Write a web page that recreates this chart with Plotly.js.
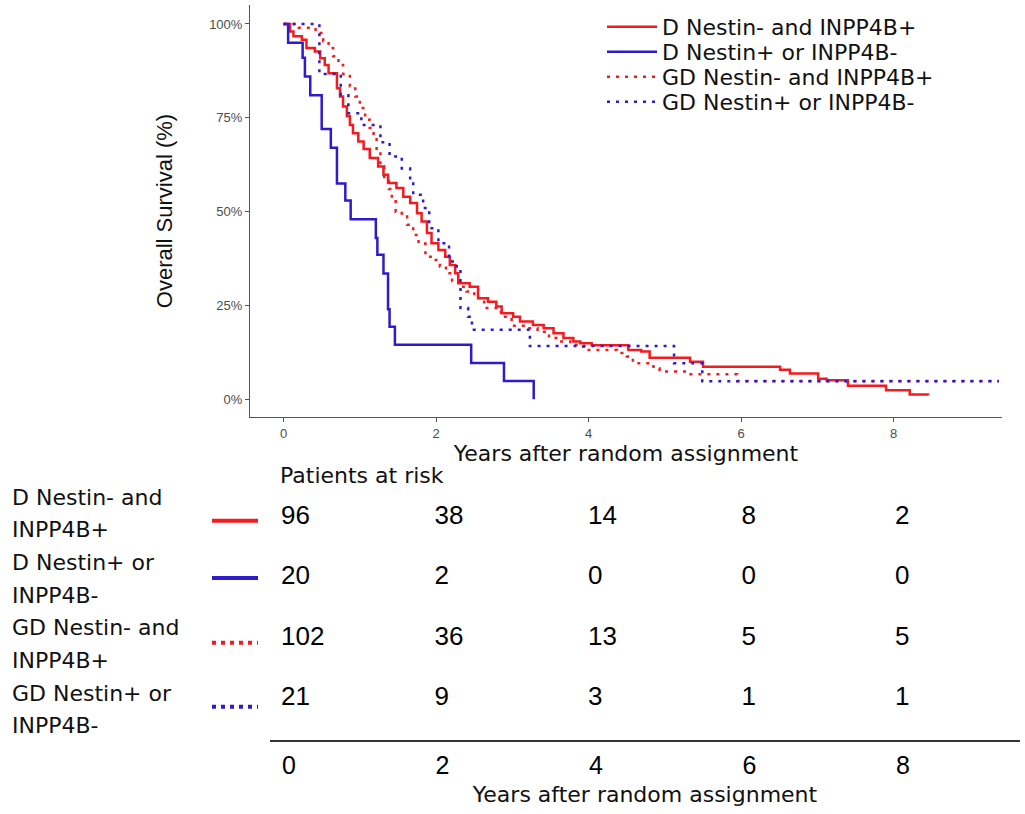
<!DOCTYPE html>
<html><head><meta charset="utf-8">
<script src="https://cdn.plot.ly/plotly-3.0.1.min.js"></script>
<style>html,body{margin:0;padding:0;background:#fff}</style>
</head><body><div id="chart" style="width:1025px;height:814px"></div>
<script>
// ---- data ----
const groupNames = ['D Nestin- and INPP4B+', 'D Nestin+ or INPP4B-', 'GD Nestin- and INPP4B+', 'GD Nestin+ or INPP4B-'];
const labelLines = [['D Nestin- and', 'INPP4B+'], ['D Nestin+ or', 'INPP4B-'], ['GD Nestin- and', 'INPP4B+'], ['GD Nestin+ or', 'INPP4B-']];

// D Nestin- and INPP4B+ (red solid)
const tD_neg = [0, 0.085, 0.13, 0.24, 0.30, 0.41, 0.48, 0.54, 0.59, 0.70, 0.74, 0.78, 0.83, 0.87, 0.91, 0.98, 1.05, 1.13, 1.24, 1.31, 1.37, 1.48, 1.57, 1.66, 1.75, 1.81, 1.88, 1.94, 2.03, 2.12, 2.18, 2.25, 2.29, 2.44, 2.55, 2.68, 2.79, 2.86, 3.01, 3.10, 3.27, 3.41, 3.54, 3.67, 3.80, 3.89, 4.04, 4.52, 4.69, 4.80, 5.33, 5.50, 6.51, 6.64, 7.01, 7.12, 7.40, 7.90, 8.21, 8.45];
const sD_neg = [100, 98, 96.7, 95.8, 93.6, 92.7, 90.9, 89.1, 86.9, 82.9, 80.7, 78, 75.4, 73.1, 70.9, 68.7, 66.7, 64.3, 62, 59.8, 57.6, 56.3, 54, 52.3, 49.6, 47.4, 44.3, 41.6, 39.8, 38, 35.8, 33.6, 30.9, 30, 26.9, 26, 24.7, 22.9, 22, 20.7, 19.8, 18.9, 17.6, 16.3, 15.4, 14.9, 14.4, 13.1, 12.7, 11.1, 10, 8.7, 7.9, 6.9, 5.5, 5.1, 3.6, 2.4, 1.3, 1.1];

// D Nestin+ or INPP4B- (blue solid)
const tD_pos = [0, 0.06, 0.25, 0.28, 0.35, 0.50, 0.62, 0.70, 0.81, 0.88, 1.21, 1.23, 1.31, 1.37, 1.39, 1.46, 2.46, 2.89, 3.28];
const sD_pos = [100, 95, 91, 86, 81, 72, 67, 57.5, 53, 48, 43, 38.5, 33.5, 24, 19.3, 14.5, 9.7, 4.9, 0];

// GD Nestin- and INPP4B+ (red dotted)
const tGD_neg = [0, 0.20, 0.42, 0.52, 0.59, 0.65, 0.72, 0.78, 0.87, 0.94, 1.00, 1.07, 1.13, 1.18, 1.22, 1.27, 1.32, 1.38, 1.42, 1.47, 1.55, 1.62, 1.70, 1.77, 1.86, 1.96, 2.05, 2.13, 2.21, 2.30, 2.40, 2.50, 2.63, 2.85, 2.99, 3.20, 3.33, 3.48, 3.60, 3.76, 3.87, 3.97, 4.37, 4.50, 4.58, 4.85, 4.93, 5.30, 5.95, 9.38];
const sGD_neg = [100, 99, 97.6, 95.4, 93.6, 91.4, 89.1, 86.7, 83.4, 80.7, 77.6, 74.5, 72.3, 70, 66, 62, 58.7, 56, 53.6, 50, 48.7, 46.5, 43.8, 41.5, 38, 37.1, 35.4, 33.6, 31.5, 30, 28.7, 27, 24.3, 22, 19.6, 18.9, 18, 16.3, 15.4, 14.5, 14, 13.1, 12.3, 11.4, 9.6, 8.3, 7.4, 6.7, 4.9, 4.9];

// GD Nestin+ or INPP4B- (blue dotted)
const tGD_pos = [0, 0.47, 0.75, 0.85, 1.02, 1.27, 1.39, 1.55, 1.66, 1.70, 1.83, 1.91, 2.03, 2.17, 2.27, 2.32, 2.42, 2.47, 3.23, 5.12, 5.49, 9.38];
const sGD_pos = [100, 86.7, 81, 76.2, 73.1, 68.5, 64.7, 61.5, 57.5, 54.5, 51, 45.6, 41.6, 36.7, 34.5, 24.3, 22, 18.5, 14.2, 9.6, 4.8, 4.8];

// patients at risk
const riskTimes = [0, 2, 4, 6, 8];
const riskD_neg = [96, 38, 14, 8, 2];
const riskD_pos = [20, 2, 0, 0, 0];
const riskGD_neg = [102, 36, 13, 5, 5];
const riskGD_pos = [21, 9, 3, 1, 1];

const xTicks = [0, 2, 4, 6, 8];
const yTicks = [0, 25, 50, 75, 100];
const yTickLabels = ['0%', '25%', '50%', '75%', '100%'];

// ---- styles ----
const RED = '#F41A1E';
const BLUE = '#2E1BCB';
const DOT = '3px,6px';
const W = 1025, H = 814;
const px = v => v / W;
const py = v => 1 - v / H;

const curveData = [
  [tD_neg, sD_neg, RED, 'solid'],
  [tD_pos, sD_pos, BLUE, 'solid'],
  [tGD_neg, sGD_neg, RED, DOT],
  [tGD_pos, sGD_pos, BLUE, DOT]
];
const legendIds = ['legend', 'legend2', 'legend3', 'legend4'];

const traces = curveData.map((c, i) => ({
  type: 'scatter', mode: 'lines', x: c[0], y: c[1], name: groupNames[i],
  line: {color: c[2], width: 2.5, dash: c[3], shape: 'hv'},
  xaxis: 'x', yaxis: 'y', legend: legendIds[i], hoverinfo: 'name'
}));

const riskRows = [riskD_neg, riskD_pos, riskGD_neg, riskGD_pos];
riskRows.forEach((row, i) => {
  traces.push({
    type: 'scatter', mode: 'text', x: riskTimes, y: riskTimes.map(() => groupNames[i]),
    text: row.map(String), textposition: 'middle right',
    textfont: {family: 'Liberation Sans, Arial, sans-serif', size: 26, color: '#000'},
    xaxis: 'x2', yaxis: 'y2', showlegend: false, hoverinfo: 'skip', cliponaxis: false
  });
});

const legendBase = {xanchor: 'left', yanchor: 'middle', bgcolor: 'rgba(0,0,0,0)', borderwidth: 0,
  itemwidth: 50, font: {family: 'DejaVu Sans', size: 22, color: '#111'}};
const legendRowsPx = [27, 52, 77, 102];

const annotations = [{
  text: 'Patients at risk', xref: 'paper', yref: 'paper', x: px(278), y: py(476),
  xanchor: 'left', yanchor: 'middle', showarrow: false,
  font: {family: 'DejaVu Sans', size: 22, color: '#111'}
}];
labelLines.flat().forEach((t, i) => {
  annotations.push({
    text: t, xref: 'paper', yref: 'paper', x: px(10), y: py(497 + i * 32.7),
    xanchor: 'left', yanchor: 'middle', showarrow: false,
    font: {family: 'DejaVu Sans', size: 22, color: '#111'}
  });
});

const sampleRowsPx = [520.7, 578, 642.7, 706.7];
const shapes = curveData.map((c, i) => ({
  type: 'line', xref: 'paper', yref: 'paper', x0: px(212), x1: px(258),
  y0: py(sampleRowsPx[i]), y1: py(sampleRowsPx[i]),
  line: {color: c[2], width: 4, dash: c[3] === 'solid' ? 'solid' : '4px,5px'}
}));

const layout = {
  width: W, height: H, margin: {l: 0, r: 0, t: 0, b: 0},
  paper_bgcolor: '#fff', plot_bgcolor: '#fff', showlegend: true,
  font: {family: 'DejaVu Sans', color: '#000'},
  xaxis: {
    domain: [px(250), px(1002)], range: [-0.44, 9.42], anchor: 'y',
    tickvals: xTicks, ticks: 'outside', ticklen: 4, tickcolor: '#555',
    showline: true, linecolor: '#555', linewidth: 1, zeroline: false, showgrid: false,
    tickfont: {family: 'Liberation Sans, Arial, sans-serif', size: 13, color: '#4D4D4D'},
    title: {text: 'Years after random assignment', font: {family: 'DejaVu Sans', size: 22, color: '#111'}, standoff: 6}
  },
  yaxis: {
    domain: [py(417), py(5)], range: [-4.72, 105.06], anchor: 'x',
    tickvals: yTicks, ticktext: yTickLabels, ticks: 'outside', ticklen: 4, tickcolor: '#555',
    showline: true, linecolor: '#555', linewidth: 1, zeroline: false, showgrid: false,
    tickfont: {family: 'Liberation Sans, Arial, sans-serif', size: 13, color: '#4D4D4D'},
    title: {text: 'Overall Survival (%)', font: {family: 'Liberation Sans, Arial, sans-serif', size: 22, color: '#111'}, standoff: 30}
  },
  xaxis2: {
    domain: [px(270), px(1020)], range: [-0.143, 9.629], anchor: 'y2',
    tickvals: riskTimes, ticks: '', showline: true, linecolor: '#333', linewidth: 1.5,
    zeroline: false, showgrid: false, ticklabelshift: 8, ticklabelstandoff: 2,
    tickfont: {family: 'Liberation Sans, Arial, sans-serif', size: 25, color: '#000'},
    title: {text: 'Years after random assignment', font: {family: 'DejaVu Sans', size: 22, color: '#111'}, standoff: 9}
  },
  yaxis2: {
    domain: [py(740), py(486)], type: 'category', categoryarray: groupNames,
    range: [3.676, -0.511], anchor: 'x2', visible: false
  },
  annotations: annotations,
  shapes: shapes
};
legendIds.forEach((id, i) => {
  layout[id] = Object.assign({}, legendBase, {x: px(602), y: py(legendRowsPx[i])});
});

Plotly.newPlot('chart', traces, layout, {displayModeBar: false, staticPlot: true});
</script>
</body></html>
